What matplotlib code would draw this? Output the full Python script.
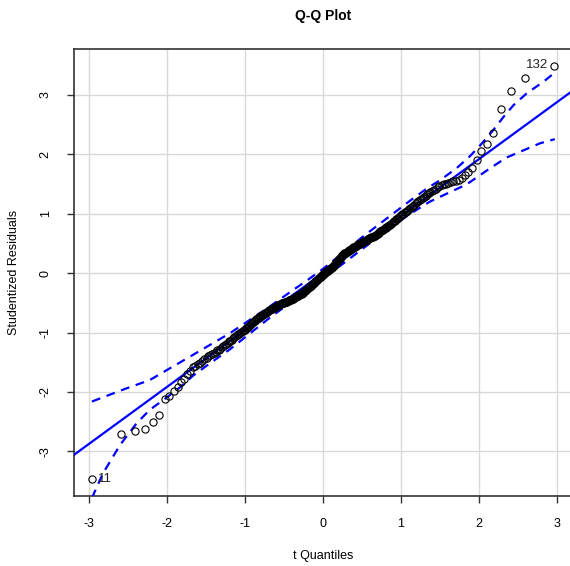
import numpy as np
import matplotlib
matplotlib.use("Agg")
import matplotlib.pyplot as plt
from statistics import NormalDist

# sorted studentized residuals
resid = [
    -3.46, -2.71, -2.66, -2.63, -2.51, -2.39, -2.11, -2.07, -1.98, -1.92,
    -1.84, -1.78, -1.70, -1.64, -1.58, -1.56, -1.53, -1.51, -1.48, -1.45,
    -1.43, -1.40, -1.38, -1.36, -1.34, -1.32, -1.30, -1.29, -1.27, -1.25,
    -1.23, -1.21, -1.19, -1.17, -1.15, -1.14, -1.12, -1.10, -1.08, -1.06,
    -1.05, -1.03, -1.02, -1.00, -0.99, -0.98, -0.96, -0.95, -0.93, -0.92,
    -0.91, -0.89, -0.88, -0.86, -0.84, -0.83, -0.81, -0.80, -0.78, -0.77,
    -0.76, -0.75, -0.74, -0.73, -0.72, -0.71, -0.70, -0.69, -0.68, -0.67,
    -0.66, -0.65, -0.64, -0.63, -0.62, -0.61, -0.60, -0.60, -0.59, -0.58,
    -0.57, -0.57, -0.56, -0.55, -0.54, -0.54, -0.53, -0.52, -0.52, -0.51,
    -0.51, -0.50, -0.50, -0.49, -0.49, -0.48, -0.48, -0.47, -0.47, -0.46,
    -0.46, -0.45, -0.45, -0.44, -0.43, -0.43, -0.42, -0.41, -0.41, -0.40,
    -0.39, -0.39, -0.38, -0.37, -0.37, -0.36, -0.35, -0.35, -0.34, -0.33,
    -0.32, -0.31, -0.30, -0.29, -0.28, -0.27, -0.26, -0.25, -0.24, -0.23,
    -0.22, -0.21, -0.20, -0.19, -0.18, -0.17, -0.16, -0.15, -0.14, -0.13,
    -0.12, -0.11, -0.10, -0.09, -0.08, -0.07, -0.06, -0.05, -0.04, -0.03,
    -0.02, -0.01, 0.00, 0.01, 0.02, 0.03, 0.04, 0.04, 0.05, 0.06,
    0.07, 0.08, 0.09, 0.09, 0.10, 0.11, 0.12, 0.14, 0.15, 0.16,
    0.18, 0.19, 0.20, 0.22, 0.23, 0.24, 0.26, 0.27, 0.28, 0.30,
    0.31, 0.32, 0.33, 0.33, 0.34, 0.35, 0.36, 0.37, 0.37, 0.38,
    0.39, 0.40, 0.41, 0.41, 0.42, 0.43, 0.44, 0.44, 0.45, 0.46,
    0.47, 0.47, 0.48, 0.49, 0.49, 0.50, 0.51, 0.52, 0.52, 0.53,
    0.54, 0.54, 0.55, 0.56, 0.56, 0.57, 0.58, 0.58, 0.59, 0.60,
    0.61, 0.61, 0.62, 0.63, 0.63, 0.64, 0.65, 0.66, 0.67, 0.69,
    0.70, 0.71, 0.72, 0.73, 0.74, 0.75, 0.76, 0.77, 0.78, 0.79,
    0.80, 0.81, 0.83, 0.84, 0.86, 0.87, 0.88, 0.90, 0.91, 0.93,
    0.94, 0.96, 0.97, 0.99, 1.00, 1.02, 1.03, 1.05, 1.06, 1.08,
    1.09, 1.11, 1.13, 1.15, 1.17, 1.19, 1.21, 1.22, 1.24, 1.26,
    1.28, 1.30, 1.32, 1.34, 1.36, 1.38, 1.40, 1.42, 1.44, 1.46,
    1.48, 1.49, 1.50, 1.52, 1.53, 1.54, 1.55, 1.56, 1.59, 1.65,
    1.69, 1.77, 1.90, 2.05, 2.16, 2.36, 2.76, 3.06, 3.27, 3.48,
]
resid_df = 295
point_ids = {0: "11", 299: "132"}

# fitted reference line
line_intercept = 0.0
line_slope = 0.958

# pointwise envelope (t quantile, value)
env_lo_t = [-2.96, -2.82, -2.60, -2.39, -2.22, -2.01, -1.83, -1.66, -1.45, -1.19,
            -0.94, -0.68, -0.42, -0.20, 0.0, 0.2, 0.5, 0.8, 1.1, 1.37,
            1.58, 1.84, 2.14, 2.35, 2.53, 2.78, 2.97]
env_lo = [-3.78, -3.37, -2.89, -2.53, -2.30, -2.10, -1.92, -1.72, -1.52, -1.28,
          -1.02, -0.75, -0.50, -0.28, -0.08, 0.10, 0.40, 0.70, 0.98, 1.20,
          1.33, 1.49, 1.76, 1.94, 2.04, 2.18, 2.25]
env_hi_t = [-2.96, -2.52, -2.22, -1.96, -1.71, -1.45, -1.19, -0.94, -0.68, -0.42,
            -0.20, 0.0, 0.2, 0.5, 0.8, 1.1, 1.33, 1.50, 1.71, 1.88,
            2.01, 2.18, 2.31, 2.44, 2.61, 2.83, 2.97]
env_hi = [-2.16, -1.94, -1.80, -1.60, -1.41, -1.21, -1.01, -0.79, -0.56, -0.32,
          -0.12, 0.07, 0.28, 0.60, 0.90, 1.20, 1.42, 1.56, 1.76, 1.96,
          2.14, 2.40, 2.62, 2.82, 3.02, 3.22, 3.37]

# theoretical t quantiles (normal quantile + Cornish-Fisher correction)
n = len(resid)
probs = (np.arange(1, n + 1) - 0.5) / n
z = np.array([NormalDist().inv_cdf(p) for p in probs])
v = resid_df
tq = z + (z**3 + z) / (4 * v) + (5 * z**5 + 16 * z**3 + 3 * z) / (96 * v**2)

plt.rcParams['font.family'] = ['Liberation Sans', 'DejaVu Sans']
plt.rcParams['axes.unicode_minus'] = False

fig = plt.figure(figsize=(5.7, 5.66), dpi=100)
ax = fig.add_axes([74 / 570, 1 - 496 / 566, 498 / 570, 447 / 566])

ax.set_xlim(-3.19, 3.19)
ax.set_ylim(-3.748, 3.765)
ax.set_xticks([-3, -2, -1, 0, 1, 2, 3])
ax.set_yticks([-3, -2, -1, 0, 1, 2, 3])
ax.grid(True, color='#D9D9D9', linewidth=1)
ax.set_axisbelow(True)

ax.axline((0, line_intercept), slope=line_slope, color='#0000FF', linewidth=1.6, zorder=3)
ax.plot(env_lo_t, env_lo, color='#0000FF', linewidth=1.6, linestyle=(0, (4, 3)), zorder=3)
ax.plot(env_hi_t, env_hi, color='#0000FF', linewidth=1.6, linestyle=(0, (4, 3)), zorder=3)

ax.plot(tq, resid, linestyle='none', marker='o', markersize=5.2,
        markerfacecolor='none', markeredgecolor='black', markeredgewidth=0.8, zorder=4)

for idx, lab in point_ids.items():
    if tq[idx] < 0:
        ax.annotate(lab, (tq[idx], resid[idx]), xytext=(4, 0), textcoords='offset points',
                    ha='left', va='center', fontsize=9.5, color='#222222')
    else:
        ax.annotate(lab, (tq[idx], resid[idx]), xytext=(-4, 1), textcoords='offset points',
                    ha='right', va='center', fontsize=9.5, color='#222222')

ax.spines['right'].set_visible(False)
for s in ['left', 'bottom', 'top']:
    ax.spines[s].set_color('#333333')
    ax.spines[s].set_linewidth(1.2)

ax.tick_params(axis='both', direction='out', length=5, width=1, color='#333333',
               labelsize=9)
ax.tick_params(axis='x', pad=11)
ax.tick_params(axis='y', pad=11)
for lab in ax.get_yticklabels():
    lab.set_rotation(90)
    lab.set_va('center')

ax.set_xlabel('t Quantiles', fontsize=9, labelpad=14)
ax.set_ylabel('Studentized Residuals', fontsize=9, labelpad=14)
fig.text(323 / 570, 1 - 16 / 566, 'Q-Q Plot', ha='center', va='center',
         fontsize=10, fontweight='bold')

fig.savefig('out.png', dpi=100)
